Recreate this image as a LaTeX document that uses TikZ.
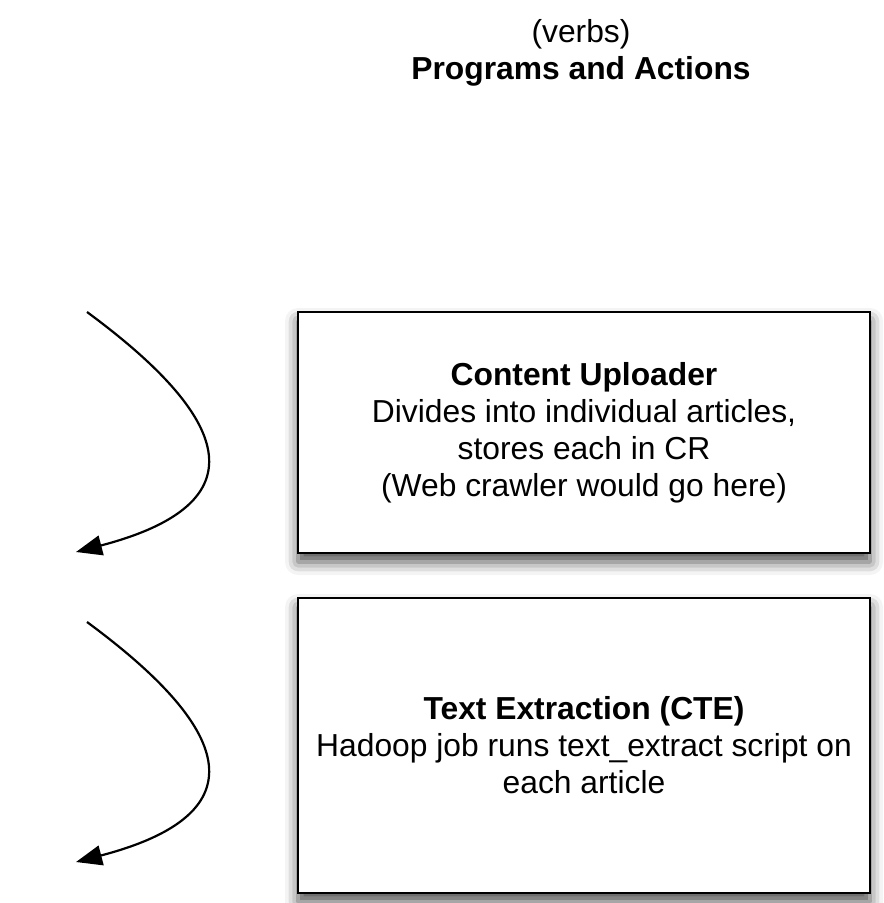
\documentclass[tikz,border=0pt]{standalone}
\usepackage{fontspec}
\setmainfont{Liberation Sans}
\usetikzlibrary{arrows.meta}
\usetikzlibrary{shadows.blur}

\begin{document}
\begin{tikzpicture}[x=0.5pt,y=-0.5pt,
  every node/.style={font=\fontsize{15.9}{18.5}\selectfont},
  stepbox/.style={draw,line width=1.1pt,fill=white,align=center,
    minimum width=286pt,
    blur shadow={shadow xshift=0pt,shadow yshift=-4.5pt,
      shadow blur radius=6.5pt,shadow opacity=70}},
  flow/.style={line width=1.1pt,-{Triangle[length=13pt,width=10pt]}}]
  \useasboundingbox (0,0) rectangle (883,903);
  \node[align=center] (title) at (581,53) {(verbs)\\\textbf{Programs and Actions}};
  \node[stepbox,minimum height=120.5pt] (upload) at (584,432.5)
    {\textbf{Content Uploader}\\Divides into individual articles,\\stores each in CR\\(Web crawler would go here)};
  \node[stepbox,minimum height=147.5pt] (extract) at (584,745.5)
    {\textbf{Text Extraction (CTE)}\\Hadoop job runs text\_extract script on\\each article};
  % curved arrows on the left
  \coordinate (s1) at (87,312);
  \coordinate (e1) at (76,552);
  \coordinate (s2) at (87,622);
  \coordinate (e2) at (76,862);
  \draw[flow] (s1) .. controls (216,407) and (275,500) .. (e1);
  \draw[flow] (s2) .. controls (216,717) and (275,810) .. (e2);
\end{tikzpicture}
\end{document}
